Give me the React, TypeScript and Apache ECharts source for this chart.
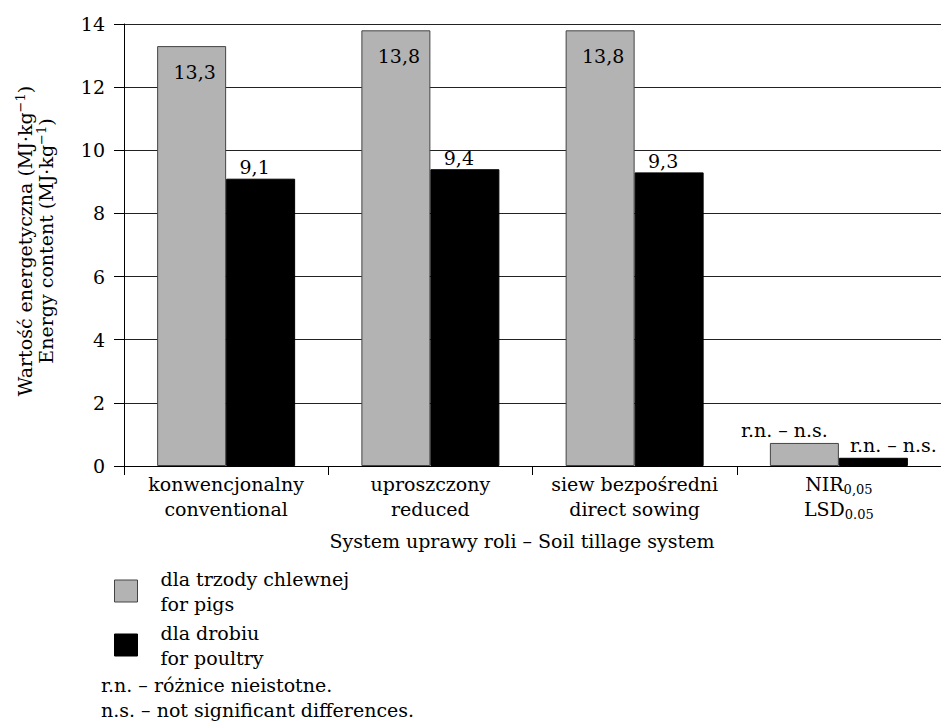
import React, { useEffect, useRef } from 'react';
import * as echarts from 'echarts';

// Tillage systems (Polish / English), the last group is the LSD column
const categoriesPl = ['konwencjonalny', 'uproszczony', 'siew bezpośredni', 'NIR'];
const categoriesEn = ['conventional', 'reduced', 'direct sowing', 'LSD'];
const lsdSubPl = '0,05';
const lsdSubEn = '0.05';

// Energy content, MJ·kg⁻¹
const forPigs = [13.3, 13.8, 13.8, 0.73];
const forPoultry = [9.1, 9.4, 9.3, 0.26];

const yTicks = { min: 0, max: 14, interval: 2 };

const seriesPigs = 'dla trzody chlewnej\nfor pigs';
const seriesPoultry = 'dla drobiu\nfor poultry';
const nsLabel = 'r.n. – n.s.';
const notePl = 'r.n. – różnice nieistotne.';
const noteEn = 'n.s. – not significant differences.';
const xTitle = 'System uprawy roli – Soil tillage system';
const yTitlePl = ['Wartość energetyczna (MJ·kg', '−1', ')'];
const yTitleEn = ['Energy content (MJ·kg', '−1', ')'];

const FONT = 'DejaVu Serif';
const FS = 19;
const GRAY = '#b3b3b3';

const fmtValue = (v: number) => String(v).replace('.', ',');

export default function App() {
  const ref = useRef<HTMLDivElement>(null);

  useEffect(() => {
    const chart = echarts.init(ref.current!, null, { renderer: 'svg' });
    const lsdIndex = categoriesPl.length - 1;

    const pigsData = forPigs.map((v, i) =>
      i === lsdIndex
        ? { value: v, label: { position: 'top', distance: 3, offset: [-20, 0], formatter: nsLabel } }
        : v
    );
    const poultryData = forPoultry.map((v, i) =>
      i === lsdIndex
        ? { value: v, label: { position: 'top', distance: 3, offset: [20, 0], formatter: nsLabel } }
        : v
    );

    chart.setOption({
      animation: false,
      backgroundColor: '#fff',
      textStyle: { fontFamily: FONT, color: '#000' },
      grid: { left: 124, top: 24, width: 821, height: 442, containLabel: false },
      xAxis: {
        type: 'category',
        data: categoriesPl.map((c, i) => c + '\n' + categoriesEn[i]),
        axisLine: { lineStyle: { color: '#000', width: 1 } },
        axisTick: { show: true, length: 9, lineStyle: { color: '#000' }, interval: 0 },
        axisLabel: {
          interval: 0,
          margin: 5,
          fontFamily: FONT,
          fontSize: FS,
          lineHeight: 25,
          color: '#000',
          formatter: (value: string, index: number) =>
            index === lsdIndex
              ? `${categoriesPl[index]}{sub|${lsdSubPl}}\n${categoriesEn[index]}{sub|${lsdSubEn}}`
              : value,
          rich: {
            sub: { fontFamily: FONT, fontSize: 13, lineHeight: 12, verticalAlign: 'bottom', color: '#000' },
          },
        },
      },
      yAxis: {
        type: 'value',
        min: yTicks.min,
        max: yTicks.max,
        interval: yTicks.interval,
        axisLine: { show: true, lineStyle: { color: '#000', width: 1 } },
        axisTick: { show: true, length: 10, lineStyle: { color: '#000' } },
        axisLabel: { margin: 19, fontFamily: FONT, fontSize: FS, color: '#000' },
        splitLine: { show: true, lineStyle: { color: '#222', width: 1 } },
      },
      legend: {
        orient: 'vertical',
        left: 114,
        top: 566,
        padding: 0,
        itemWidth: 23,
        itemHeight: 22,
        itemGap: 4,
        icon: 'rect',
        selectedMode: false,
        textStyle: { fontFamily: FONT, fontSize: FS, lineHeight: 25, color: '#000', padding: [0, 0, 0, 18] },
        data: [
          { name: seriesPigs, itemStyle: { color: GRAY, borderColor: '#444', borderWidth: 1 } },
          { name: seriesPoultry, itemStyle: { color: '#000', borderColor: '#000', borderWidth: 1 } },
        ],
      },
      series: [
        {
          name: seriesPigs,
          type: 'bar',
          barWidth: 69,
          barGap: '0%',
          data: pigsData,
          itemStyle: { color: GRAY, borderColor: '#444', borderWidth: 1 },
          label: {
            show: true,
            position: 'insideTop',
            distance: 16,
            offset: [3, 0],
            fontFamily: FONT,
            fontSize: FS,
            color: '#000',
            formatter: (p: any) => fmtValue(p.value),
          },
        },
        {
          name: seriesPoultry,
          type: 'bar',
          barWidth: 69,
          barGap: '0%',
          data: poultryData,
          itemStyle: { color: '#000', borderColor: '#000', borderWidth: 1 },
          label: {
            show: true,
            position: 'top',
            distance: 2,
            offset: [-6, 0],
            fontFamily: FONT,
            fontSize: FS,
            color: '#000',
            formatter: (p: any) => fmtValue(p.value),
          },
        },
      ],
      graphic: [
        {
          type: 'text',
          x: 35,
          y: 241,
          rotation: Math.PI / 2,
          style: {
            text:
              `{a|${yTitlePl[0]}}{s|${yTitlePl[1]}}{a|${yTitlePl[2]}}\n` +
              `{a|${yTitleEn[0]}}{s|${yTitleEn[1]}}{a|${yTitleEn[2]}}`,
            align: 'center',
            verticalAlign: 'middle',
            fontFamily: FONT,
            fontSize: FS,
            fill: '#000',
            rich: {
              a: { fontFamily: FONT, fontSize: FS, lineHeight: 21, fill: '#000' },
              s: { fontFamily: FONT, fontSize: 13, lineHeight: 12, verticalAlign: 'top', fill: '#000' },
            },
          },
        },
        {
          type: 'text',
          x: 522,
          y: 541,
          style: { text: xTitle, align: 'center', verticalAlign: 'middle', fontFamily: FONT, fontSize: FS, fill: '#000' },
        },
        {
          type: 'text',
          x: 101,
          y: 685,
          style: { text: notePl, align: 'left', verticalAlign: 'middle', fontFamily: FONT, fontSize: FS, fill: '#000' },
        },
        {
          type: 'text',
          x: 101,
          y: 710,
          style: { text: noteEn, align: 'left', verticalAlign: 'middle', fontFamily: FONT, fontSize: FS, fill: '#000' },
        },
      ],
    });

    return () => chart.dispose();
  }, []);

  return (
    <div
      ref={ref}
      style={{ position: 'fixed', left: 0, top: 0, width: 941, height: 722, background: '#fff' }}
    />
  );
}
